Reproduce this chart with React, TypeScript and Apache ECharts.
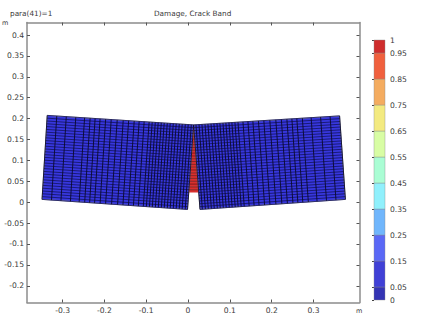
import React, { useEffect, useRef } from "react";
import * as echarts from "echarts";

const xTicks = [-0.3, -0.2, -0.1, 0, 0.1, 0.2, 0.3];
const yTicks = [-0.2, -0.15, -0.1, -0.05, 0, 0.05, 0.1, 0.15, 0.2, 0.25, 0.3, 0.35, 0.4];
const barLabels = [0, 0.05, 0.15, 0.25, 0.35, 0.45, 0.55, 0.65, 0.75, 0.85, 0.95, 1];
const barColors = ["#3434b4", "#4040d6", "#5a68f6", "#70b6fc", "#90f0fc", "#aafdd4", "#d8fda4", "#f3ea80", "#f4ac60", "#f0603e", "#cf2d2d"];

// Beam corners in metres: [top outer, top inner, bottom inner, bottom outer]
const leftBeam = [[-0.3366, 0.2077], [0.0134, 0.1849], [-0.0012, -0.0173], [-0.349, 0.0067]];
const rightBeam = [[0.3624, 0.2065], [0.0134, 0.1849], [0.0287, -0.0173], [0.3763, 0.0067]];

// Mesh lines as fractions of the beam, from the outer end and from the top
const columnFractions = [0, 0.065, 0.13, 0.195, 0.255, 0.293, 0.327, 0.361, 0.399, 0.437, 0.478, 0.519, 0.556, 0.594, 0.628, 0.662, 0.696, 0.717, 0.738, 0.758, 0.779, 0.799, 0.82, 0.84, 0.861, 0.881, 0.902, 0.922, 0.943, 0.963, 0.984, 1];
const rowFractions = [0, 0.033, 0.067, 0.1, 0.133, 0.167, 0.2, 0.233, 0.267, 0.3, 0.333, 0.367, 0.4, 0.433, 0.467, 0.5, 0.533, 0.567, 0.6, 0.633, 0.667, 0.7, 0.733, 0.767, 0.8, 0.833, 0.867, 0.9, 0.933, 0.967, 1];
// Crack band elements: one colour per row starting below the top row
const crackColors = ["#8fd8c8", "#f4ac60", "#f0603e", "#e0372f", "#d8302e", "#d8302e", "#d8302e", "#d8302e", "#d8302e", "#d8302e", "#d8302e", "#d8302e", "#d8302e", "#d8302e", "#d8302e", "#d8302e", "#d8302e", "#d8302e", "#d8302e", "#d8302e", "#d8302e", "#d8302e", "#d8302e"];
const lineColors = ["#0a0a2c", "#12125c", "#6e1414"];

const mix = (a: number[], b: number[], t: number) => [a[0] + (b[0] - a[0]) * t, a[1] + (b[1] - a[1]) * t];
const at = (beam: number[][], s: number, r: number) => mix(mix(beam[0], beam[1], s), mix(beam[3], beam[2], s), r);

const meshLines: number[][] = [];
[leftBeam, rightBeam].forEach((beam) => {
  rowFractions.forEach((r) => meshLines.push([...at(beam, 0, r), ...at(beam, 1, r), 1]));
  columnFractions.forEach((s) => meshLines.push([...at(beam, s, 0), ...at(beam, s, 1), 0]));
});
const beamFills = [leftBeam, rightBeam].map((b) => b.flat());
const crackCells = crackColors.map((_, i) => {
  const r0 = rowFractions[i + 1];
  const r1 = rowFractions[i + 2];
  return [...at(leftBeam, 1, r0), ...at(rightBeam, 1, r0), ...at(rightBeam, 1, r1), ...at(leftBeam, 1, r1), i];
});
const crackEdgeRows = crackCells.map((c) => [c[0], c[1], c[2], c[3], 2]);
const bandData = barColors.map((_, i) => [barLabels[i], barLabels[i + 1], i]);

const textColor = "#3a3a3a";
const axisGray = "#8c8c8c";
const font = "DejaVu Sans";

const polygon = (api: any, n: number) => {
  const points: number[][] = [];
  for (let i = 0; i < n; i++) points.push(api.coord([api.value(i * 2), api.value(i * 2 + 1)]));
  return points;
};
const lineItem = (_: any, api: any) => {
  const p = polygon(api, 2);
  const kind = api.value(4);
  return {
    type: "line",
    shape: { x1: p[0][0], y1: p[0][1], x2: p[1][0], y2: p[1][1] },
    style: { stroke: lineColors[kind], lineWidth: kind === 0 ? 0.9 : 0.8 },
  };
};

const mainAxis = (extra: any) => ({
  type: "value",
  gridIndex: 0,
  axisLine: { show: true, onZero: false, lineStyle: { color: axisGray, width: 1.5 } },
  splitLine: { show: false },
  ...extra,
});

export default function App() {
  const ref = useRef<HTMLDivElement>(null);
  useEffect(() => {
    const chart = echarts.init(ref.current!, undefined, { renderer: "svg" });
    const xTick = { inside: true, length: 3, lineStyle: { color: "#555", width: 1 }, customValues: xTicks };
    const yTick = { inside: true, length: 3, lineStyle: { color: "#555", width: 1 }, customValues: yTicks };
    const label = { fontSize: 7.6, color: textColor, fontFamily: font };
    const titleStyle = { fontSize: 7.3, fontWeight: "normal", color: textColor, fontFamily: font };
    chart.setOption({
      animation: false,
      backgroundColor: "#fff",
      title: [
        { text: "para(41)=1", left: 10, top: 10, padding: 0, textStyle: titleStyle },
        { text: "Damage, Crack Band", left: 154, top: 10, padding: 0, textStyle: titleStyle },
      ],
      graphic: [
        { type: "text", x: 2, y: 19, style: { text: "m", fontSize: 6.5, fill: textColor, fontFamily: font } },
        { type: "text", x: 356, y: 307, style: { text: "m", fontSize: 6.5, fill: textColor, fontFamily: font } },
      ],
      grid: [
        { left: 27, top: 22.5, width: 332.5, height: 280 },
        { left: 374, top: 40, width: 11, height: 260 },
      ],
      xAxis: [
        mainAxis({ position: "bottom", min: -0.385, max: 0.41, axisTick: xTick, axisLabel: { ...label, margin: 4, customValues: xTicks, formatter: (v: number) => String(v) } }),
        mainAxis({ position: "top", min: -0.385, max: 0.41, axisTick: xTick, axisLabel: { show: false } }),
        { type: "value", gridIndex: 1, min: 0, max: 1, show: false },
      ],
      yAxis: [
        mainAxis({ position: "left", min: -0.24, max: 0.43, axisTick: yTick, axisLabel: { ...label, margin: 3, customValues: yTicks, formatter: (v: number) => String(v) } }),
        mainAxis({ position: "right", min: -0.24, max: 0.43, axisTick: yTick, axisLabel: { show: false } }),
        {
          type: "value",
          gridIndex: 1,
          position: "right",
          min: 0,
          max: 1,
          axisLine: { show: false },
          splitLine: { show: false },
          axisTick: { inside: true, length: 2, lineStyle: { color: "#444", width: 1 }, customValues: barLabels },
          axisLabel: { ...label, margin: 5, customValues: barLabels, formatter: (v: number) => String(v) },
        },
      ],
      series: [
        {
          type: "custom", name: "crack", xAxisIndex: 0, yAxisIndex: 0, silent: true,
          encode: { x: [0, 2, 4, 6], y: [1, 3, 5, 7] },
          data: crackCells,
          renderItem: (_: any, api: any) => ({
            type: "polygon",
            shape: { points: polygon(api, 4) },
            style: { fill: crackColors[api.value(8)] },
          }),
        },
        {
          type: "custom", name: "beams", xAxisIndex: 0, yAxisIndex: 0, silent: true,
          encode: { x: [0, 2, 4, 6], y: [1, 3, 5, 7] },
          data: beamFills,
          renderItem: (_: any, api: any) => ({
            type: "polygon",
            shape: { points: polygon(api, 4) },
            style: { fill: "#3737de", stroke: "#9a9aa6", lineWidth: 1 },
          }),
        },
        {
          type: "custom", name: "mesh", xAxisIndex: 0, yAxisIndex: 0, silent: true,
          encode: { x: [0, 2], y: [1, 3] },
          data: meshLines,
          renderItem: lineItem,
        },
        {
          type: "custom", name: "crackRows", xAxisIndex: 0, yAxisIndex: 0, silent: true,
          encode: { x: [0, 2], y: [1, 3] },
          data: crackEdgeRows,
          renderItem: lineItem,
        },
        {
          type: "custom", name: "colorbar", xAxisIndex: 2, yAxisIndex: 2, silent: true,
          encode: { y: [0, 1] },
          data: bandData,
          renderItem: (_: any, api: any) => {
            const a = api.coord([0, api.value(0)]);
            const b = api.coord([1, api.value(1)]);
            return {
              type: "rect",
              shape: { x: a[0], y: b[1], width: b[0] - a[0], height: a[1] - b[1] },
              style: { fill: barColors[api.value(2)], stroke: "#88888c", lineWidth: 0.4 },
            };
          },
        },
      ],
    });
    return () => chart.dispose();
  }, []);
  return <div ref={ref} style={{ position: "fixed", left: 0, top: 0, width: 424, height: 320 }} />;
}
